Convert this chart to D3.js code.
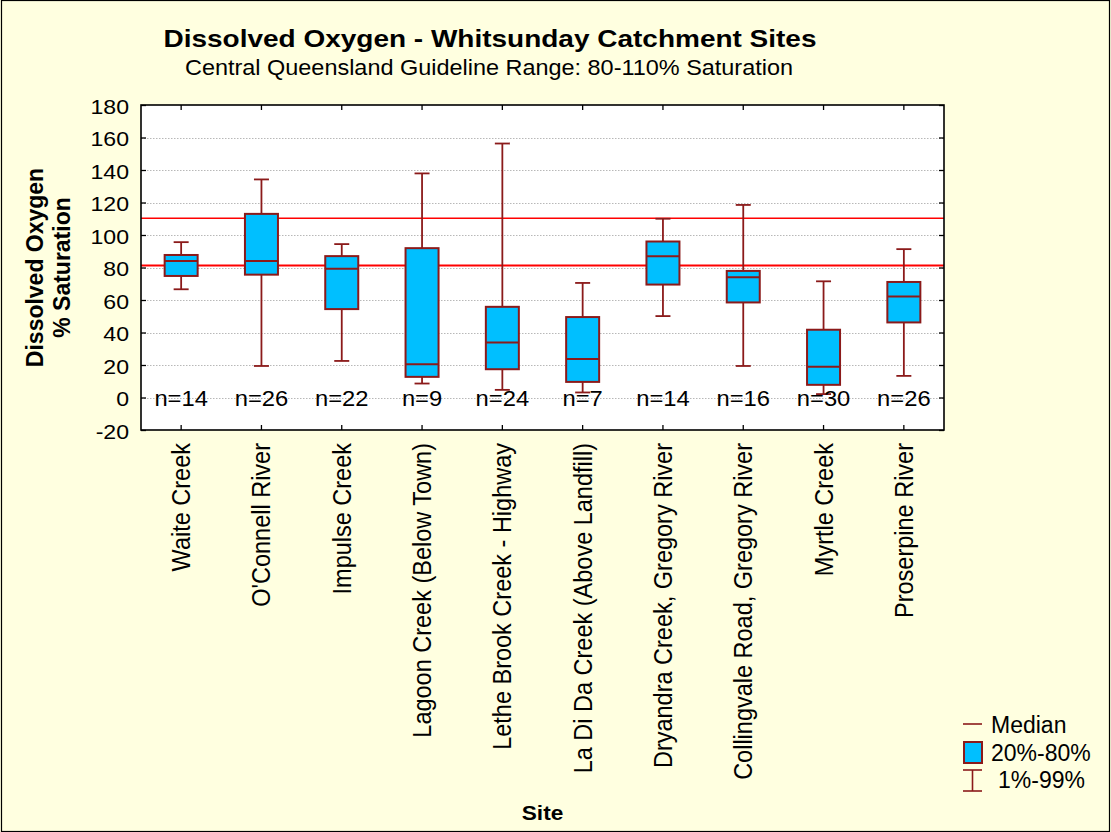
<!DOCTYPE html>
<html>
<head>
<meta charset="utf-8">
<script src="https://cdn.jsdelivr.net/npm/d3@7"></script>
<style>
html,body{margin:0;padding:0;background:#FFFFE0;}
svg{display:block;}
text{font-family:Arial,"Liberation Sans",Helvetica,sans-serif;fill:#000;}
</style>
</head>
<body>
<svg id="chart" width="1111" height="832"></svg>
<script>
// ---- data ----
const sites = ["Waite Creek","O'Connell River","Impulse Creek","Lagoon Creek (Below Town)","Lethe Brook Creek - Highway","La Di Da Creek (Above Landfill)","Dryandra Creek, Gregory River","Collingvale Road, Gregory River","Myrtle Creek","Proserpine River"];
const p01    = [66.6, 19.4, 22.5,   8.6,   4.7,  3.1,  50.1, 19.4,  2.1, 13.3];
const p20    = [74.8, 75.6, 54.4,  12.7,  17.4,  9.6,  69.5, 58.5,  7.8, 46.2];
const median = [84.0, 84.0, 79.3,  20.5,  33.9, 23.7,  86.9, 74.0, 19.0, 62.1];
const p80    = [87.7, 113.0, 87.0, 91.9,  55.8, 49.5,  96.0, 77.9, 41.7, 71.1];
const p99    = [95.6, 134.2, 94.4, 137.9, 156.3, 70.5, 110.0, 118.5, 71.5, 91.3];
const nCounts = [14, 26, 22, 9, 24, 7, 14, 16, 30, 26];
const guideline = [81.3, 110.3];
const yTicks = [-20, 0, 20, 40, 60, 80, 100, 120, 140, 160, 180];
const legendLabels = ["Median", "20%-80%", "1%-99%"];
const titleText = "Dissolved Oxygen - Whitsunday Catchment Sites";
const subtitleText = "Central Queensland Guideline Range: 80-110% Saturation";
const yTitleLines = ["Dissolved Oxygen", "% Saturation"];
const xTitleText = "Site";

// ---- layout ----
const W = 1111, H = 832;
const plot = {left: 141, right: 944, top: 105, bottom: 430};
const boxFill = "#00BFFF", dark = "#8B1A1A", guideRed = "#FF0000";

const svg = d3.select("#chart");
svg.append("rect").attr("x",0).attr("y",0).attr("width",W).attr("height",H).attr("fill","#FFFFE0");
svg.append("rect").attr("x",1.5).attr("y",0.5).attr("width",W-3).attr("height",H-1)
  .attr("fill","none").attr("stroke","#000").attr("stroke-width",1.2);

const x = d3.scaleBand().domain(sites).range([plot.left, plot.right]).paddingInner(0).paddingOuter(0);
const y = d3.scaleLinear().domain([-20, 180]).range([plot.bottom, plot.top]);

// plot background
svg.append("rect").attr("x",plot.left).attr("y",plot.top)
  .attr("width",plot.right-plot.left).attr("height",plot.bottom-plot.top).attr("fill","#fff");

// gridlines
svg.append("g").selectAll("line").data(yTicks.filter(t => t > -20 && t < 180)).join("line")
  .attr("x1",plot.left).attr("x2",plot.right)
  .attr("y1",d => Math.round(y(d))+0.5).attr("y2",d => Math.round(y(d))+0.5)
  .attr("stroke","#b8b8b8").attr("stroke-width",1).attr("stroke-dasharray","1.5,1.5");

// axes (ticks inward on all four sides)
const inner = 5;
const gL = svg.append("g").attr("transform",`translate(${plot.left},0)`)
  .call(d3.axisRight(y).tickValues(yTicks).tickSize(inner).tickFormat(""));
const gR = svg.append("g").attr("transform",`translate(${plot.right},0)`)
  .call(d3.axisLeft(y).tickValues(yTicks).tickSize(inner).tickFormat(""));
const gB = svg.append("g").attr("transform",`translate(0,${plot.bottom})`)
  .call(d3.axisTop(x).tickSize(inner).tickFormat(""));
const gT = svg.append("g").attr("transform",`translate(0,${plot.top})`)
  .call(d3.axisBottom(x).tickSize(inner).tickFormat(""));
[gL,gR,gB,gT].forEach(g => {
  g.select(".domain").remove();
  g.selectAll(".tick line").attr("stroke","#000").attr("stroke-width",1.3);
});

// guideline lines
svg.append("g").selectAll("line").data(guideline).join("line")
  .attr("x1",plot.left).attr("x2",plot.right)
  .attr("y1",d => y(d)).attr("y2",d => y(d))
  .attr("stroke",guideRed).attr("stroke-width",(d,i) => i === 0 ? 2 : 1.4);

// y tick labels
svg.append("g").selectAll("text").data(yTicks).join("text")
  .attr("transform",d => `translate(129,${y(d)+1}) scale(1.1,1)`)
  .attr("text-anchor","end").attr("dy","0.36em")
  .style("font-size","21px").text(d => d);

// boxes
const boxW = 33, capW = 15;
const bx = svg.append("g");
sites.forEach((s,i) => {
  const cx = x(s) + x.bandwidth()/2;
  const g = bx.append("g");
  g.append("line").attr("x1",cx).attr("x2",cx).attr("y1",y(p99[i])).attr("y2",y(p80[i]))
    .attr("stroke",dark).attr("stroke-width",1.8);
  g.append("line").attr("x1",cx).attr("x2",cx).attr("y1",y(p20[i])).attr("y2",y(p01[i]))
    .attr("stroke",dark).attr("stroke-width",1.8);
  g.append("line").attr("x1",cx-capW/2).attr("x2",cx+capW/2).attr("y1",y(p99[i])).attr("y2",y(p99[i]))
    .attr("stroke",dark).attr("stroke-width",1.8);
  g.append("line").attr("x1",cx-capW/2).attr("x2",cx+capW/2).attr("y1",y(p01[i])).attr("y2",y(p01[i]))
    .attr("stroke",dark).attr("stroke-width",1.8);
  g.append("rect").attr("x",cx-boxW/2).attr("y",y(p80[i]))
    .attr("width",boxW).attr("height",y(p20[i]) - y(p80[i]))
    .attr("fill",boxFill).attr("stroke",dark).attr("stroke-width",2);
  g.append("line").attr("x1",cx-boxW/2).attr("x2",cx+boxW/2).attr("y1",y(median[i])).attr("y2",y(median[i]))
    .attr("stroke",dark).attr("stroke-width",2);
});

// n labels
svg.append("g").selectAll("text").data(sites).join("text")
  .attr("transform",(d,i) => `translate(${x(d)+x.bandwidth()/2},${y(0)+8}) scale(1.08,1)`)
  .attr("text-anchor","middle").style("font-size","22px")
  .text((d,i) => "n=" + nCounts[i]);

// x labels rotated
svg.append("g").selectAll("text").data(sites).join("text")
  .attr("transform",d => `translate(${x(d)+x.bandwidth()/2+9},443) scale(1.07,1) rotate(-90)`)
  .attr("text-anchor","end").style("font-size","23.5px").text(d => d);

// titles
svg.append("text").attr("x",490).attr("y",47).attr("text-anchor","middle")
  .style("font-size","24px").style("font-weight","bold")
  .attr("textLength",653).attr("lengthAdjust","spacingAndGlyphs").text(titleText);
svg.append("text").attr("x",489).attr("y",75).attr("text-anchor","middle")
  .style("font-size","22.5px")
  .attr("textLength",608).attr("lengthAdjust","spacingAndGlyphs").text(subtitleText);

// y title
const ymid = (plot.top + plot.bottom)/2;
svg.append("text").attr("transform",`translate(43,${ymid}) scale(1.08,1) rotate(-90)`)
  .attr("text-anchor","middle").style("font-size","23px").style("font-weight","bold").text(yTitleLines[0]);
svg.append("text").attr("transform",`translate(70,${ymid}) scale(1.08,1) rotate(-90)`)
  .attr("text-anchor","middle").style("font-size","23px").style("font-weight","bold").text(yTitleLines[1]);

// x title
svg.append("text").attr("transform",`translate(${(plot.left+plot.right)/2},820) scale(1.08,1)`)
  .attr("text-anchor","middle").style("font-size","21px").style("font-weight","bold").text(xTitleText);

// legend
const lg = svg.append("g");
lg.append("line").attr("x1",963).attr("x2",982).attr("y1",724).attr("y2",724).attr("stroke",dark).attr("stroke-width",1.6);
lg.append("text").attr("x",991).attr("y",733).style("font-size","23px").text(legendLabels[0]);
lg.append("rect").attr("x",964).attr("y",742).attr("width",18).attr("height",21)
  .attr("fill",boxFill).attr("stroke",dark).attr("stroke-width",2);
lg.append("text").attr("x",991).attr("y",761).style("font-size","23px").text(legendLabels[1]);
lg.append("line").attr("x1",972.5).attr("x2",972.5).attr("y1",770).attr("y2",791).attr("stroke",dark).attr("stroke-width",1.6);
lg.append("line").attr("x1",963).attr("x2",982).attr("y1",770).attr("y2",770).attr("stroke",dark).attr("stroke-width",1.6);
lg.append("line").attr("x1",963).attr("x2",982).attr("y1",791).attr("y2",791).attr("stroke",dark).attr("stroke-width",1.6);
lg.append("text").attr("x",998).attr("y",788).style("font-size","23px").text(legendLabels[2]);

// plot border on top
svg.append("rect").attr("x",plot.left).attr("y",plot.top)
  .attr("width",plot.right-plot.left).attr("height",plot.bottom-plot.top)
  .attr("fill","none").attr("stroke","#000").attr("stroke-width",1.6);
</script>
</body>
</html>
